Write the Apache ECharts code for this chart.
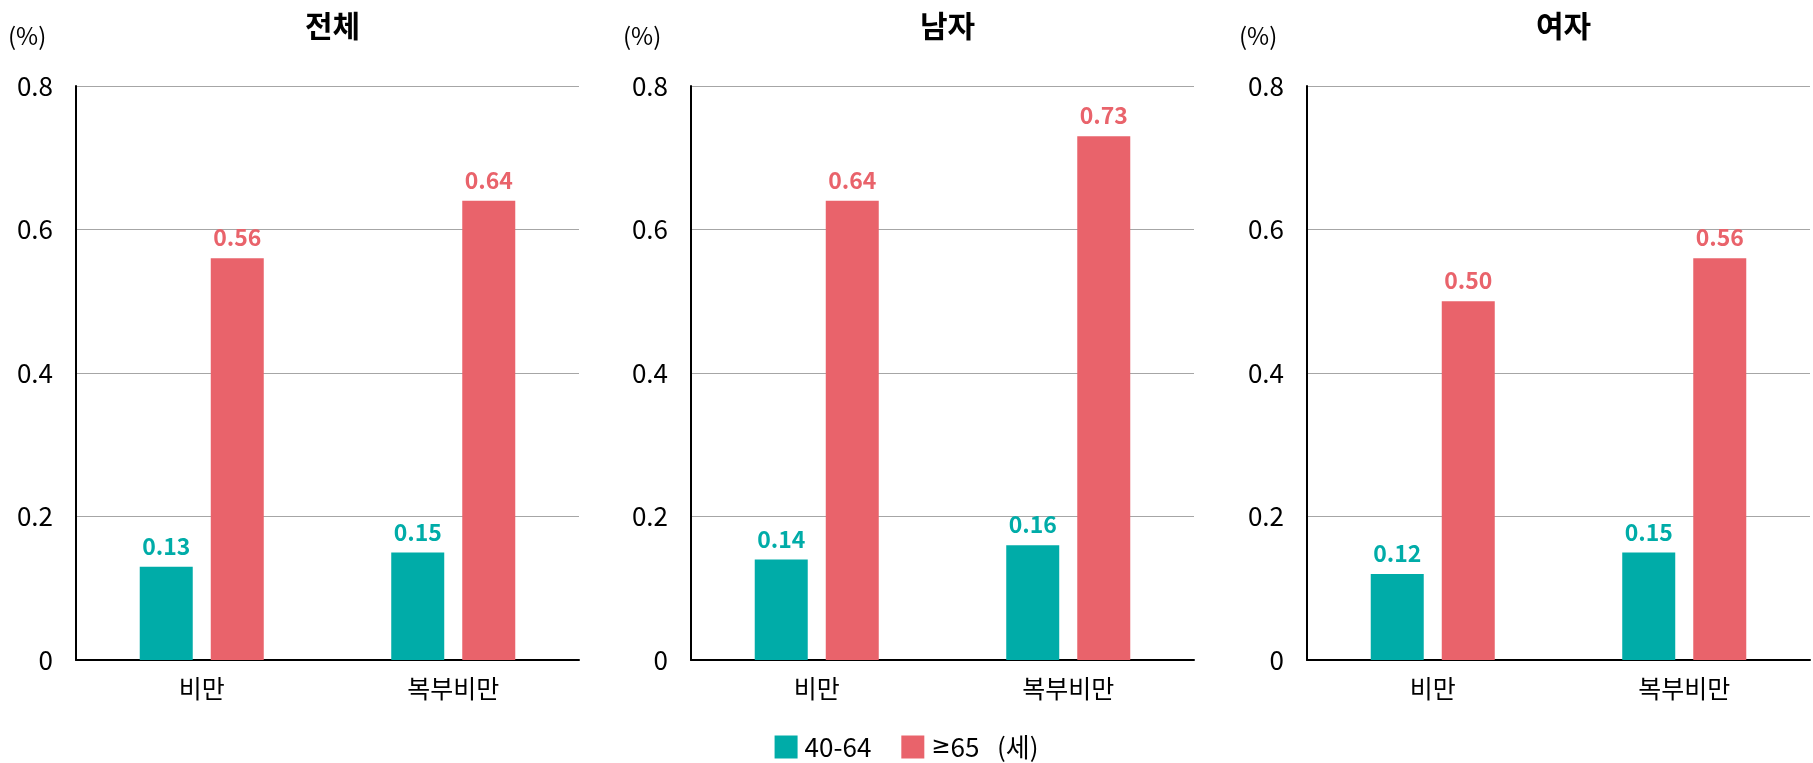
<!DOCTYPE html>
<html>
<head>
<meta charset="utf-8">
<script src="https://cdn.jsdelivr.net/npm/echarts@6/dist/echarts.min.js"></script>
<style>
html,body{margin:0;padding:0;background:#fff;}
#c{width:1813px;height:763px;}
</style>
</head>
<body>
<div id="c"></div>
<script>
const panelTitles = ['전체', '남자', '여자'];
const categories = ['비만', '복부비만'];
const seriesNames = ['40-64', '≥65   (세)'];
const age4064 = [
  [0.13, 0.15],
  [0.14, 0.16],
  [0.12, 0.15]
];
const age65 = [
  [0.56, 0.64],
  [0.64, 0.73],
  [0.50, 0.56]
];
const yTicks = { min: 0, max: 0.8, interval: 0.2 };
const unitLabel = '(%)';

const colors = ['#00ACA8', '#E9636B'];
const FONT = '"Noto Sans CJK KR", "Noto Sans", sans-serif';
const LABELFONT = '"Liberation Sans Narrow", "Noto Sans CJK KR", sans-serif';

const gridLefts = [76, 691, 1307];
const gridWidth = 503;
const gridTop = 86;
const gridBottom = 103;

const chart = echarts.init(document.getElementById('c'), null, { renderer: 'canvas' });

const grids = [], xAxes = [], yAxes = [], series = [], titles = [], graphics = [];
panelTitles.forEach((t, i) => {
  grids.push({ left: gridLefts[i], width: gridWidth, top: gridTop, bottom: gridBottom, containLabel: false });
  xAxes.push({
    type: 'category', gridIndex: i, data: categories,
    axisLine: { lineStyle: { color: '#000', width: 2 } },
    axisTick: { show: false },
    axisLabel: { color: '#000', fontFamily: FONT, fontSize: 25, margin: 16 }
  });
  yAxes.push({
    type: 'value', gridIndex: i, min: yTicks.min, max: yTicks.max, interval: yTicks.interval,
    axisLine: { show: true, lineStyle: { color: '#000', width: 2 } },
    axisTick: { show: false },
    splitLine: { lineStyle: { color: '#A6A6A6', width: 1 } },
    axisLabel: { color: '#000', fontFamily: FONT, fontSize: 26, margin: 23 }
  });
  titles.push({
    text: t, left: gridLefts[i] + gridWidth / 2, top: 6, textAlign: 'center',
    textStyle: { fontFamily: FONT, fontSize: 30, fontWeight: 'bold', color: '#000' }
  });
  graphics.push({
    type: 'text', left: gridLefts[i] - 50 - 18, top: 24,
    style: { text: unitLabel, fontFamily: FONT, fontSize: 24, fill: '#000' }
  });
  [age4064, age65].forEach((arr, k) => {
    series.push({
      name: seriesNames[k], type: 'bar', xAxisIndex: i, yAxisIndex: i,
      data: arr[i], barWidth: 53, barGap: '34%',
      itemStyle: { color: colors[k] },
      label: {
        show: true, position: 'top', distance: 9,
        formatter: p => p.value.toFixed(2),
        fontFamily: LABELFONT, fontWeight: 'bold', fontSize: 23, color: colors[k]
      }
    });
  });
});

chart.setOption({
  animation: false,
  title: titles,
  grid: grids,
  xAxis: xAxes,
  yAxis: yAxes,
  series: series,
  graphic: graphics,
  legend: {
    data: seriesNames, top: 729, left: 'center',
    itemWidth: 23, itemHeight: 23, itemGap: 30,
    icon: 'rect',
    formatter: n => n.replace('≥', '{g|≥}'),
    textStyle: {
      fontFamily: FONT, fontSize: 26, color: '#000', padding: [0, 0, 0, 2],
      rich: { g: { fontFamily: '"DejaVu Sans", sans-serif', fontSize: 23, color: '#000' } }
    }
  }
});
</script>
</body>
</html>
